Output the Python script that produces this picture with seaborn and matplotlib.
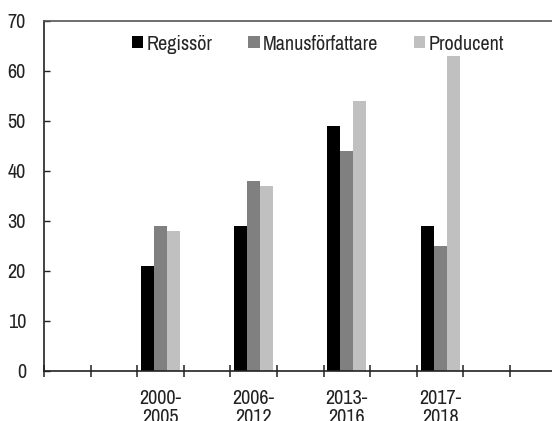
import numpy as np
import pandas as pd
import matplotlib
matplotlib.use("Agg")
import matplotlib.pyplot as plt
import seaborn as sns

# data
periods = ["2000-\n2005", "2006-\n2012", "2013-\n2016", "2017-\n2018"]
roles = ["Regissör", "Manusförfattare", "Producent"]
regissor = [21, 29, 49, 29]
manus = [29, 38, 44, 25]
producent = [28, 37, 54, 63]
colors = ["#000000", "#808080", "#c0c0c0"]

# the category axis has empty slots between and around the periods
slots = [" " * 1, " " * 2, periods[0], " " * 3, periods[1], " " * 4,
         periods[2], " " * 5, periods[3], " " * 6, " " * 7]

rows = []
for vals, role in zip([regissor, manus, producent], roles):
    for p, v in zip(periods, vals):
        rows.append({"period": p, "role": role, "value": v})
df = pd.DataFrame(rows)

fs = 14.5
sns.set_style("white")
plt.rcParams["font.family"] = ["Archivo Narrow", "DejaVu Sans"]
plt.rcParams["font.size"] = fs

fig = plt.figure(figsize=(5.52, 4.21), dpi=100)
ax = fig.add_axes([44 / 552, 50.3 / 421, 512.6 / 552, 350.2 / 421])

sns.barplot(data=df, x="period", y="value", hue="role", order=slots,
            hue_order=roles, palette=colors, width=0.84, saturation=1,
            edgecolor="none", ax=ax)

ax.set_ylim(0, 70)
ax.set_xlim(-0.5, len(slots) - 0.5)
ax.set_yticks(np.arange(0, 71, 10))
ax.tick_params(axis="y", left=True, direction="in", length=4, width=1,
               pad=13, labelsize=fs, colors="#222222")

# boundary ticks crossing the axis, labels centred on the slots
ax.set_xticks(np.arange(len(slots) + 1) - 0.5)
ax.set_xticklabels([])
ax.tick_params(axis="x", which="major", bottom=True, direction="inout",
               length=8, width=1.2, color="#333333")
label_pos = [slots.index(p) for p in periods]
ax.set_xticks(label_pos, minor=True)
ax.set_xticklabels(periods, minor=True, linespacing=1.0)
ax.tick_params(axis="x", which="minor", bottom=True, length=0, pad=13.5,
               labelsize=fs, labelcolor="#222222")

ax.set_xlabel("")
ax.set_ylabel("")
for side in ["left", "bottom", "top", "right"]:
    ax.spines[side].set_visible(True)
    ax.spines[side].set_color("#222222")
    ax.spines[side].set_linewidth(1.2)
ax.spines["top"].set_color("#555555")

ax.legend(loc="center", bbox_to_anchor=(318 / 552, 1 - 44 / 421),
          bbox_transform=fig.transFigure, ncol=3, frameon=False,
          handlelength=0.55, handleheight=0.55, handletextpad=0.15,
          columnspacing=1.8, fontsize=fs)

fig.savefig("out.png", dpi=100)
